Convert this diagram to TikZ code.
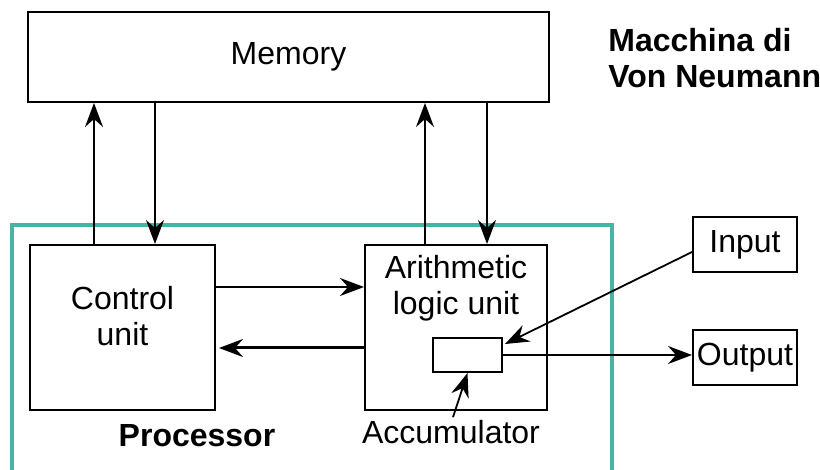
\documentclass[tikz,border=0pt]{standalone}
\usepackage{fontspec}
\setmainfont{Liberation Sans}
\usetikzlibrary{arrows.meta}
\usetikzlibrary{calc}

\definecolor{procteal}{RGB}{72,180,166}

\begin{document}
\begin{tikzpicture}[x=0.5pt, y=-0.5pt,
	font=\fontsize{16}{18}\selectfont,
	box/.style = {draw,
		rectangle,
		line width=1pt,
		inner sep=0pt},
	conn/.style = {line width=0.9pt,
		-{Stealth[length=12pt, width=9pt, inset=4pt]}}]
	
	\useasboundingbox (0,0) rectangle (820,470);
	
	% Memory
	\node[box, minimum width=260.5pt, minimum height=45pt] (mem) at (288.5,57) {Memory};
	
	% Title
	\node[anchor=north west, align=left, inner sep=0pt, font=\fontsize{16}{18}\selectfont\bfseries] (title) at (608,28) {Macchina di\\Von Neumann};
	
	% Processor frame
	\draw[procteal, line width=2.4pt] (12,480) |- (612,225) -- (612,480);
	\node[font=\fontsize{16}{18}\selectfont\bfseries] (proc) at (197,436) {Processor};
	
	% Control unit
	\node[box, minimum width=92.5pt, minimum height=82.5pt] (cu) at (122.5,327.5) {};
	\node[align=center] (cutext) at ([yshift=5.5pt]cu.center) {Control\\unit};
	
	% ALU
	\node[box, minimum width=91pt, minimum height=82.5pt] (alu) at (456,327.5) {};
	\node[align=center] (alutext) at ([yshift=19.75pt]alu.center) {Arithmetic\\logic unit};
	
	% Accumulator
	\node[box, minimum width=34.5pt, minimum height=17pt] (acc) at (467.5,355) {};
	\node (accl) at (451,432) {Accumulator};
	
	% Input / Output
	\node[box, minimum width=52pt, minimum height=27.5pt] (inp) at (745,244.5) {Input};
	\node[box, minimum width=52pt, minimum height=27.5pt] (outp) at (745,357.5) {Output};
	
	% Memory links
	\draw[conn] ([xshift=-14.25pt]cu.north) -- ([xshift=-14.25pt]cu.north |- mem.south);
	\draw[conn] ([xshift=16.25pt]cu.north |- mem.south) -- ([xshift=16.25pt]cu.north);
	\draw[conn] ([xshift=-15.5pt]alu.north) -- ([xshift=-15.5pt]alu.north |- mem.south);
	\draw[conn] ([xshift=15.5pt]alu.north |- mem.south) -- ([xshift=15.5pt]alu.north);
	
	% Control unit and ALU
	\draw[conn] ([yshift=20.25pt]cu.east) -- ([yshift=20.25pt]cu.east -| alu.west);
	\draw[conn, line width=1.5pt] ([yshift=-10.25pt]alu.west) -- ([yshift=-10.25pt,xshift=1.5pt]alu.west -| cu.east);
	
	% Input, output, accumulator
	\draw[conn] ([yshift=-3.75pt]inp.west) -- ([xshift=1pt,yshift=-3.5pt]acc.north east);
	\draw[conn] (acc.east) -- (acc.east -| outp.west);
	\draw[conn] ([xshift=1pt,yshift=-2pt]accl.north) -- (acc.south);
	
\end{tikzpicture}
\end{document}
